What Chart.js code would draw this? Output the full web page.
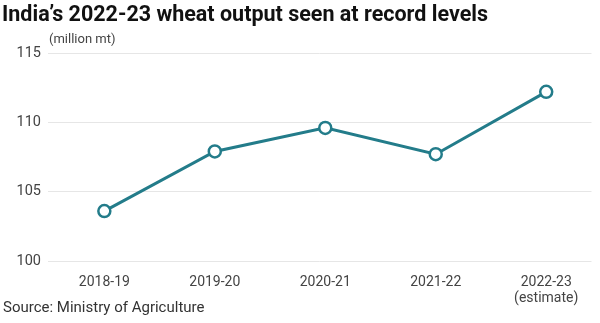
<!DOCTYPE html>
<html>
<head>
<meta charset="utf-8">
<script src="https://cdn.jsdelivr.net/npm/chart.js@4"></script>
<style>
  body { margin: 0; background: #fff; font-family: Roboto, "Noto Sans", sans-serif; }
  #wrap { position: relative; width: 600px; height: 323px; overflow: hidden; }
  #title { position: absolute; left: 2px; top: 1px; font-size: 21.5px; font-weight: 700; color: #111; white-space: nowrap; }
  #unit { position: absolute; left: 49px; top: 31px; font-size: 13px; color: #444; }
  #source { position: absolute; left: 3px; top: 298px; font-size: 15px; color: #333; }
  canvas { position: absolute; left: 0; top: 0; }
</style>
</head>
<body>
<div id="wrap">
  <canvas id="c" width="600" height="323"></canvas>
  <div id="title">India’s 2022-23 wheat output seen at record levels</div>
  <div id="unit">(million mt)</div>
  <div id="source">Source: Ministry of Agriculture</div>
</div>
<script>
// 年度別の小麦生産量（百万トン）
const years = ['2018-19', '2019-20', '2020-21', '2021-22', ['2022-23', '(estimate)']];
const output = [103.6, 107.9, 109.6, 107.7, 112.2];
const yTicks = [100, 105, 110, 115];

const teal = '#237c8a';

new Chart(document.getElementById('c'), {
  type: 'line',
  data: {
    datasets: [{
      data: output.map((v, i) => ({ x: i, y: v })),
      borderColor: teal, borderWidth: 3,
      pointRadius: 6, pointBorderWidth: 2.5,
      pointBackgroundColor: '#fff', pointBorderColor: teal,
      tension: 0,
    }],
  },
  options: {
    responsive: false, animation: false,
    layout: { padding: { top: 53, right: 0, bottom: 0, left: 0 } },
    plugins: { legend: { display: false }, tooltip: { enabled: false } },
    scales: {
      x: {
        type: 'linear', min: -0.51, max: 4.41,
        afterBuildTicks: s => { s.ticks = years.map((_, i) => ({ value: i })); },
        afterFit: s => { s.height = 62; },
        grid: { display: false }, border: { display: false },
        ticks: { color: '#444', font: { family: 'Roboto', size: 14, lineHeight: 1.15 }, padding: 5, maxRotation: 0, callback: v => years[v] },
      },
      y: {
        min: 100, max: 115,
        afterBuildTicks: s => { s.ticks = yTicks.map(v => ({ value: v })); },
        afterFit: s => { s.width = 48; },
        grid: { color: '#e6e6e6', drawTicks: false, lineWidth: 1 }, border: { display: false },
        ticks: { color: '#444', font: { family: 'Roboto', size: 14.5 }, padding: 7 },
      },
    },
  },
});
</script>
</body>
</html>
